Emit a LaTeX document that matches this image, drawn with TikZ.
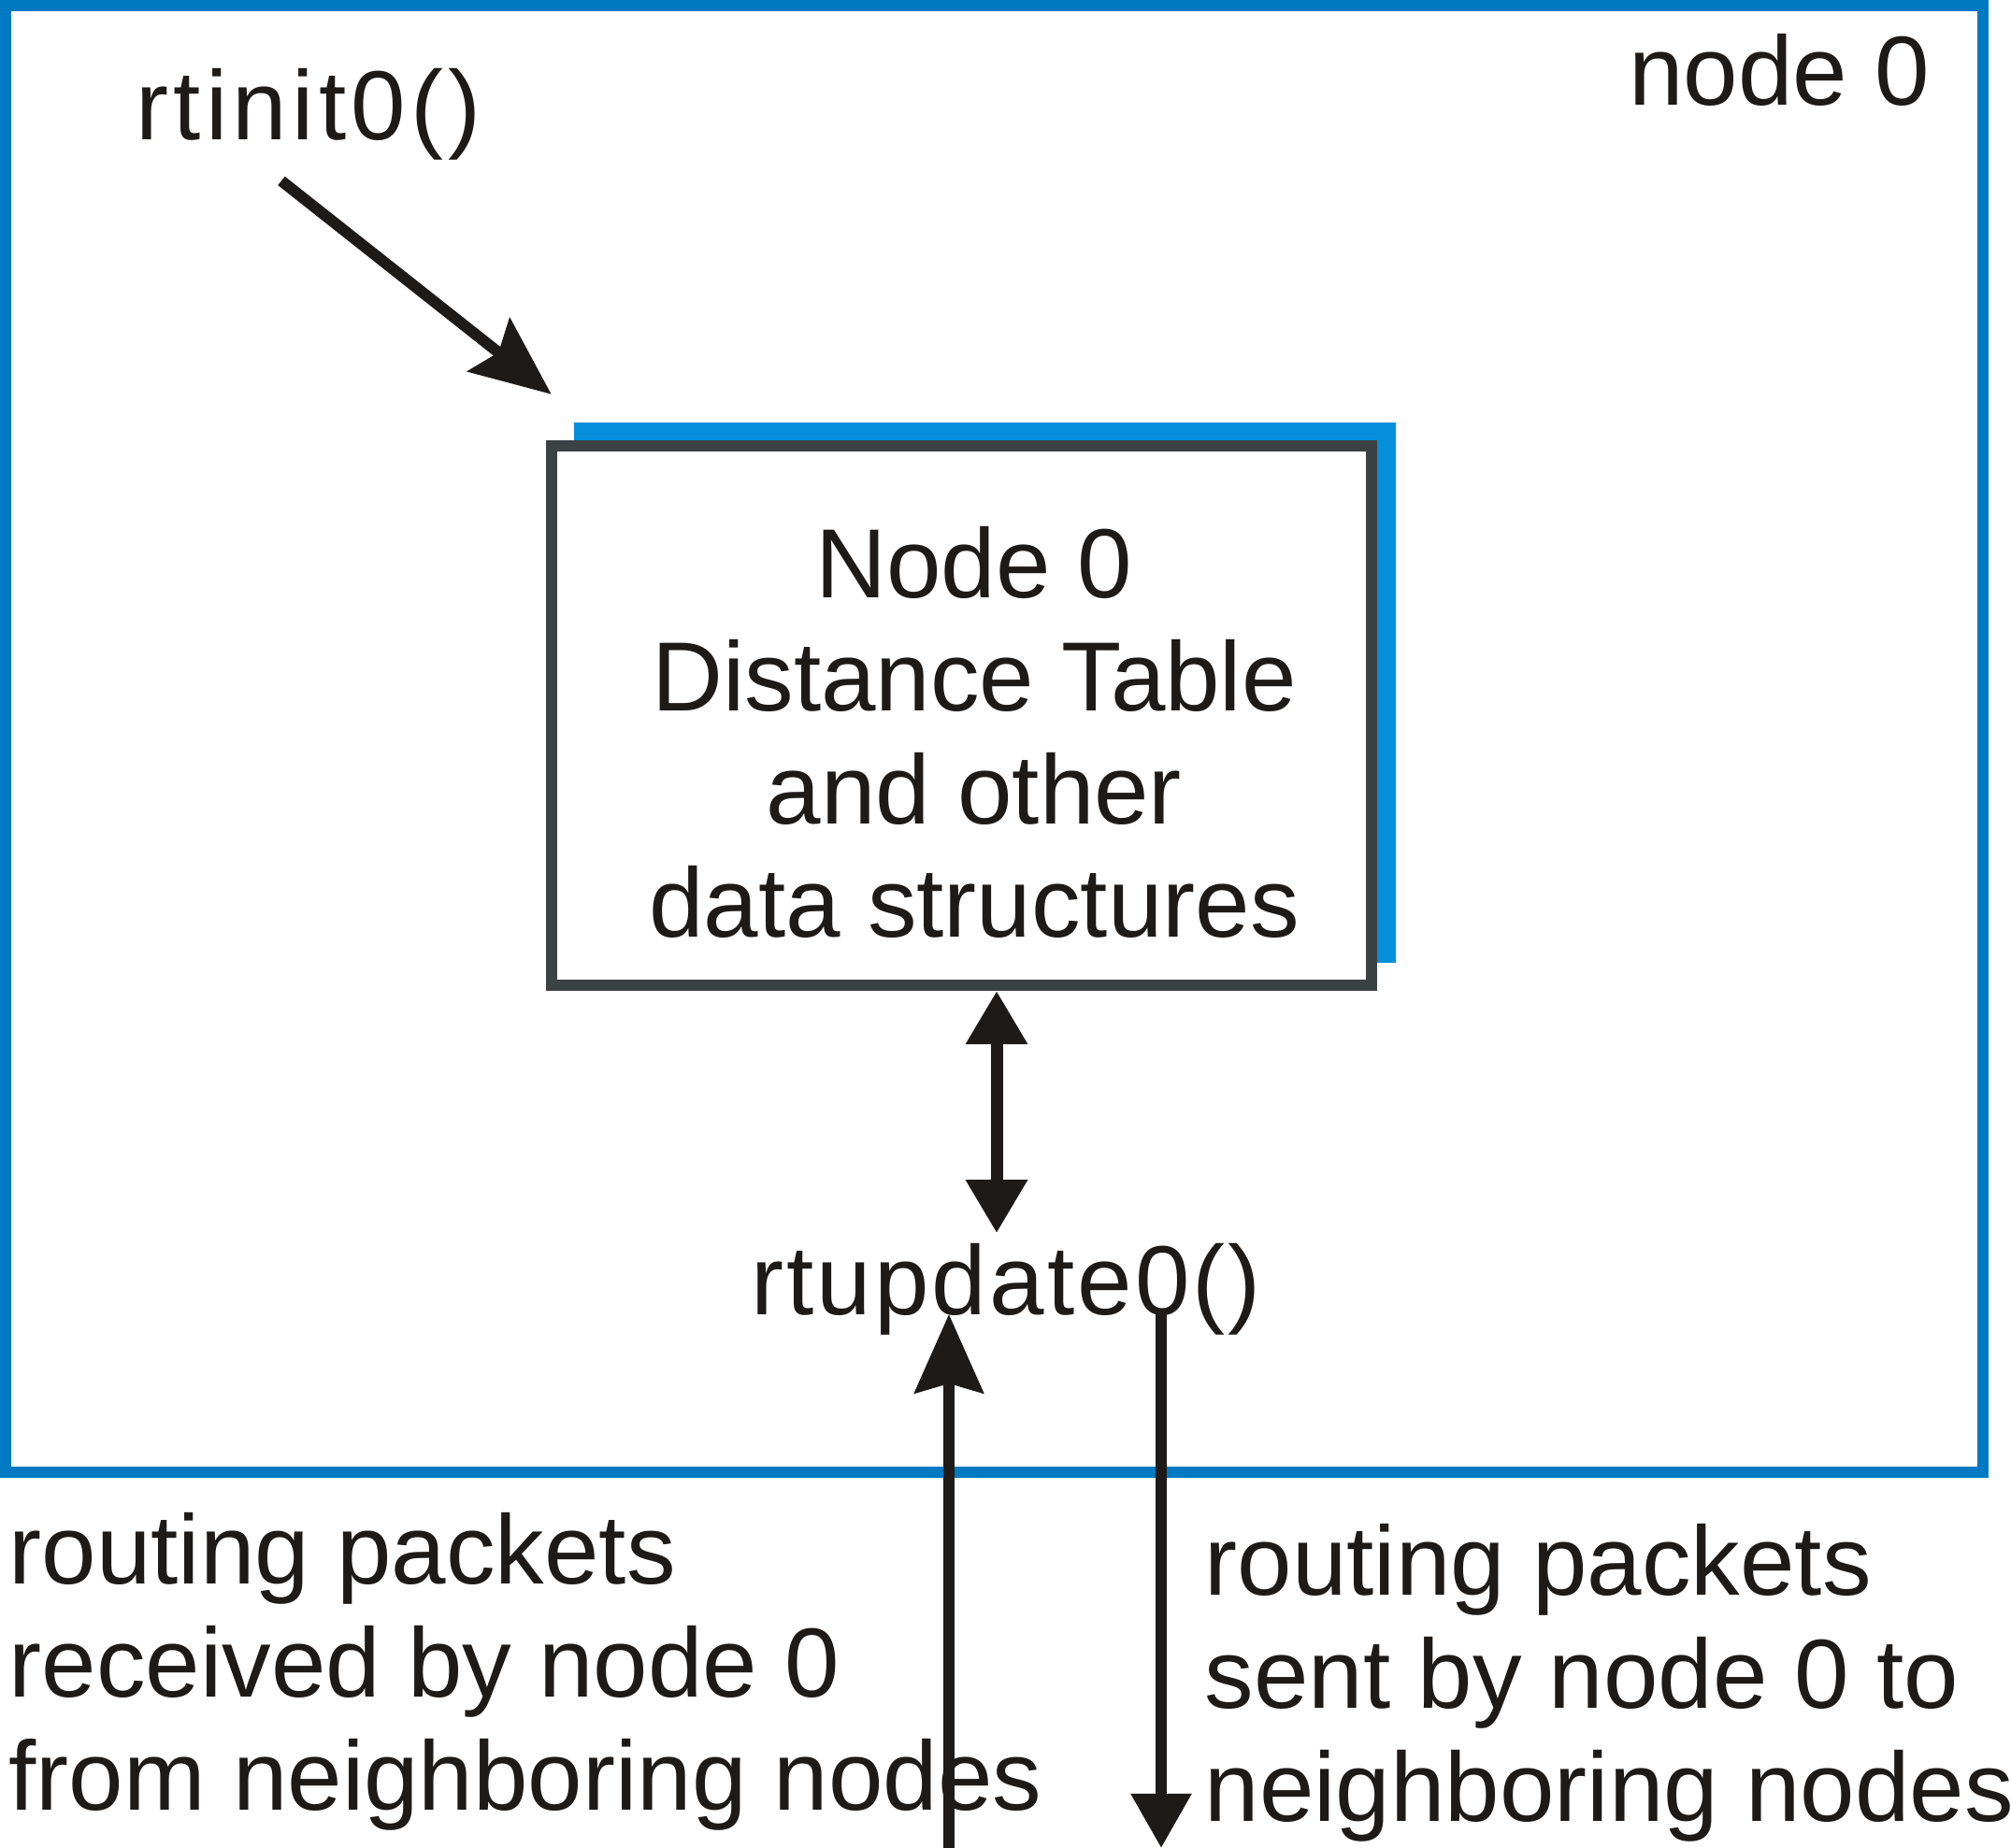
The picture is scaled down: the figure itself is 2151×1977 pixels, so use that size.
\documentclass[tikz,border=0pt]{standalone}
\usepackage{fontspec}
\setmainfont{Liberation Sans}
\usetikzlibrary{arrows.meta}

\definecolor{frameblue}{HTML}{0079C3}
\definecolor{shadowblue}{HTML}{058FDD}
\definecolor{boxgray}{HTML}{3C4144}
\definecolor{ink}{HTML}{1E1A18}

\begin{document}
\begin{tikzpicture}[x=0.01cm, y=-0.01cm,
    lbl/.style={font=\fontsize{29.9pt}{34.4pt}\selectfont, text=ink, inner sep=0pt},
    outerframe/.style={draw=frameblue, line width=0.125cm},
    tblbox/.style={draw=boxgray, fill=white, line width=0.12cm},
    stealtharr/.style={draw=ink, line width=0.12cm, -{Stealth[length=0.85cm, width=0.72cm, inset=0.13cm]}},
    trianglearr/.style={draw=ink, line width=0.12cm, -{Triangle[length=0.58cm, width=0.62cm]}},
    bothways/.style={draw=ink, line width=0.13cm, {Triangle[length=0.57cm, width=0.63cm]}-{Triangle[length=0.57cm, width=0.63cm]}}]
    \useasboundingbox (0,0) rectangle (2151,1977);

    % Frame of node 0
    \node[outerframe, minimum width=21.145cm, minimum height=15.68cm] (frame0) at (1063.25,790.5) {};
    \node[lbl, anchor=base] (node0) at (1903,113) {node 0};
    \node[lbl, anchor=base] (rtinit) at (330,150) {\addfontfeature{LetterSpace=5}rtinit0()};

    % Distance table
    \fill[shadowblue] (614,452) rectangle (1493,1030);
    \node[tblbox, minimum width=8.77cm, minimum height=5.77cm] (dtbl) at (1028.5,765.5) {};
    \node[lbl, align=center] (dtext) at (1042,783.5) {Node 0\\Distance Table\\and other\\data structures};

    \node[lbl, anchor=base] (rtup) at (1076,1406) {\addfontfeature{LetterSpace=3}rtupdate0()};

    % Packet labels
    \node[lbl, align=left, anchor=west] (recv) at (9,1788) {routing packets\\received by node 0\\from neighboring nodes};
    \node[lbl, align=left, anchor=west] (sent) at (1288,1800) {routing packets\\sent by node 0 to\\neighboring nodes};

    \coordinate (dblx) at (1066,0);
    \coordinate (inbot) at (1015,1977);
    \coordinate (outbot) at (1242,1977);

    % Arrows
    \draw[stealtharr] ([xshift=-0.29cm, yshift=-0.21cm]rtinit.south) -- ([xshift=0.06cm, yshift=0.49cm]dtbl.north west);
    \draw[bothways, shorten >=0.1cm] (dblx |- dtbl.south) -- (dblx |- rtup.north);
    \draw[{Stealth[length=0.84cm, width=0.73cm, inset=0.1cm]}-, draw=ink, line width=0.12cm] (inbot |- rtup.base) -- (inbot);
    \draw[trianglearr] (outbot |- rtup.base) -- (outbot);
\end{tikzpicture}
\end{document}
